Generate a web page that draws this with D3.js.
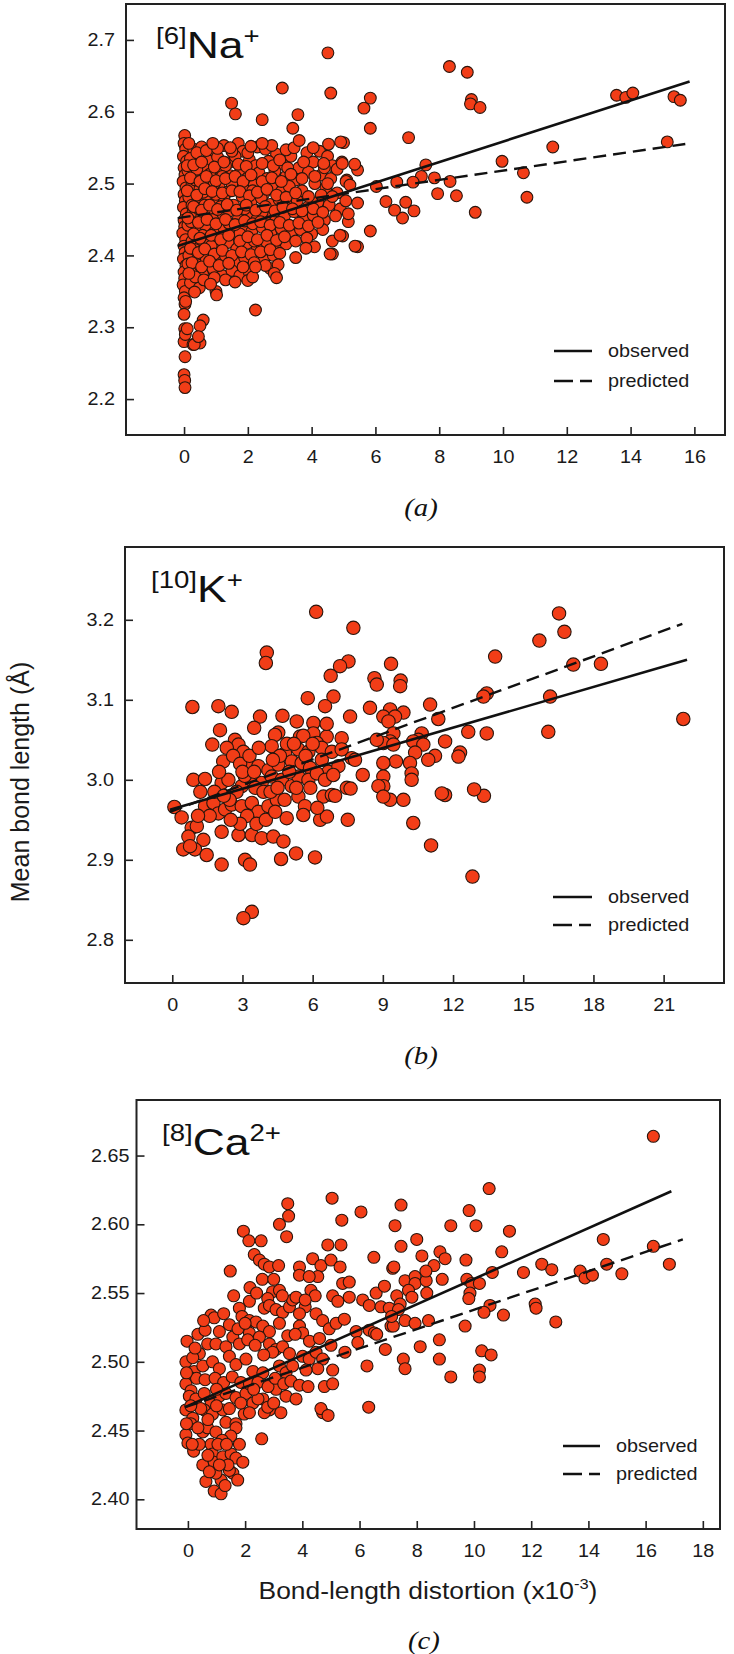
<!DOCTYPE html>
<html><head><meta charset="utf-8">
<script src="https://cdn.jsdelivr.net/npm/d3@7"></script>
<style>body{margin:0;background:#fff}svg{display:block}</style>
</head><body>
<svg id="chart" width="734" height="1654"></svg>
<script>
// ---------- DATA ----------
// (a) [6]Na+ : [bond-length distortion x1e-3, mean bond length Å]
const naPoints = [
 [0.02,2.567],[0.0,2.556],[0.05,2.548],[-0.02,2.538],[0.08,2.531],[0.0,2.522],[0.03,2.512],[-0.03,2.503],[0.06,2.494],[0.0,2.485],
 [0.04,2.476],[-0.02,2.467],[0.07,2.458],[0.0,2.449],[0.02,2.44],[-0.04,2.431],[0.05,2.422],[0.0,2.413],[0.03,2.404],[-0.02,2.395],
 [0.06,2.386],[0.0,2.377],[0.02,2.368],[-0.03,2.359],[0.04,2.35],[0.0,2.341],[0.03,2.332],[0.0,2.318],[0.05,2.336],[0.02,2.298],
 [0.0,2.28],[0.04,2.29],[0.03,2.259],[0.0,2.234],[0.02,2.226],[0.03,2.216],
 [0.3,2.548],[0.55,2.551],[0.85,2.54],[1.25,2.553],[1.7,2.556],[1.85,2.545],[2.3,2.551],[2.55,2.548],[2.9,2.541],[3.85,2.543],[4.25,2.545],[4.5,2.538],[0.15,2.556],
 [0.2,2.535],[0.45,2.528],[0.75,2.532],[1.05,2.537],[1.4,2.529],[1.6,2.538],[2.05,2.533],[2.25,2.525],[2.65,2.531],[3.1,2.527],[3.35,2.538],[3.6,2.522],[4.05,2.53],[4.65,2.525],[4.95,2.53],
 [0.12,2.518],[0.38,2.512],[0.62,2.521],[0.9,2.509],[1.18,2.516],[1.45,2.511],[1.78,2.52],[2.0,2.508],[2.35,2.515],[2.6,2.507],[2.85,2.517],[3.2,2.51],[3.5,2.505],[3.9,2.516],[4.3,2.512],[4.6,2.507],[5.1,2.505],
 [0.25,2.499],[0.5,2.493],[0.78,2.502],[1.1,2.496],[1.35,2.488],[1.62,2.5],[1.95,2.49],[2.2,2.498],[2.5,2.486],[2.75,2.495],[3.05,2.489],[3.3,2.496],[3.7,2.49],[4.1,2.5],[4.45,2.494],[4.8,2.487],
 [0.15,2.481],[0.42,2.475],[0.7,2.484],[0.98,2.472],[1.25,2.479],[1.55,2.47],[1.82,2.482],[2.1,2.474],[2.42,2.48],[2.7,2.471],[2.98,2.478],[3.25,2.47],[3.55,2.476],[3.9,2.468],[4.2,2.474],[4.55,2.47],[4.9,2.465],
 [0.28,2.46],[0.55,2.453],[0.85,2.462],[1.12,2.455],[1.42,2.462],[1.7,2.451],[2.0,2.458],[2.28,2.45],[2.58,2.457],[2.88,2.449],[3.15,2.455],[3.45,2.461],[3.75,2.45],[4.05,2.456],[4.4,2.449],[4.75,2.455],
 [0.12,2.442],[0.4,2.435],[0.68,2.441],[0.95,2.432],[1.25,2.438],[1.52,2.43],[1.85,2.44],[2.12,2.433],[2.45,2.439],[2.72,2.43],[3.05,2.437],[3.35,2.429],[3.65,2.436],[4.0,2.43],[4.35,2.436],
 [0.25,2.42],[0.52,2.413],[0.8,2.422],[1.08,2.41],[1.38,2.418],[1.65,2.409],[1.98,2.417],[2.3,2.41],[2.6,2.418],[2.9,2.411],[3.2,2.416],
 [0.15,2.4],[0.42,2.394],[0.7,2.401],[1.0,2.392],[1.3,2.399],[1.6,2.39],[1.9,2.397],[2.5,2.394],[2.8,2.4],
 [0.3,2.38],[0.58,2.375],[0.9,2.382],[1.2,2.372],[1.5,2.379],[1.75,2.372],[2.05,2.376],[2.7,2.382],
 [0.2,2.362],[0.48,2.355],[0.75,2.364],[1.0,2.35],[0.33,2.349],
 [0.1,2.525],[0.35,2.505],[0.6,2.488],[0.45,2.465],[0.22,2.447],[0.58,2.428],[0.35,2.408],[0.12,2.388],[0.5,2.386],[0.85,2.413],
 [0.9,2.45],[1.15,2.468],[1.0,2.485],[0.8,2.513],[1.3,2.525],[1.5,2.5],[1.4,2.445],[1.15,2.425],[1.9,2.465],[1.75,2.43],
 [2.15,2.49],[2.45,2.46],[2.2,2.42],[1.5,2.545],[2.0,2.543],[0.25,2.47],[0.65,2.47],[0.95,2.5],[1.2,2.51],[0.7,2.395],[0.4,2.52],
 [0.4,2.543],[0.7,2.546],[1.05,2.549],[1.45,2.55],[2.1,2.552],[2.75,2.553],[3.2,2.547],[3.45,2.55],[4.05,2.55],[0.9,2.556],[2.45,2.556],
 [0.3,2.526],[0.55,2.53],[0.95,2.523],[1.25,2.53],[1.7,2.527],[1.95,2.524],[2.45,2.528],[2.8,2.525],[3.0,2.533],[3.25,2.522],[3.75,2.53],[4.4,2.522],[4.8,2.52],
 [0.2,2.508],[0.5,2.503],[0.7,2.51],[1.0,2.504],[1.3,2.507],[1.6,2.51],[1.85,2.503],[2.1,2.512],[2.45,2.503],[2.75,2.508],[3.05,2.503],[3.35,2.513],[3.7,2.507],[4.1,2.51],[4.5,2.5],
 [0.1,2.49],[0.4,2.484],[0.65,2.493],[0.88,2.489],[1.2,2.487],[1.5,2.49],[1.75,2.489],[2.05,2.483],[2.3,2.488],[2.6,2.492],[2.9,2.484],[3.2,2.481],[3.5,2.487],[3.9,2.482],[4.3,2.484],[4.65,2.482],
 [0.3,2.468],[0.55,2.463],[0.8,2.47],[1.05,2.464],[1.35,2.471],[1.65,2.463],[1.95,2.47],[2.25,2.463],[2.55,2.468],[2.85,2.462],[3.1,2.467],[3.4,2.465],[3.7,2.462],[4.05,2.465],[4.35,2.46],
 [0.12,2.452],[0.45,2.446],[0.72,2.45],[1.0,2.444],[1.3,2.45],[1.6,2.443],[1.9,2.448],[2.15,2.444],[2.4,2.447],[2.7,2.442],[3.0,2.446],[3.3,2.442],[3.6,2.445],[3.9,2.441],[4.2,2.446],
 [0.3,2.43],[0.5,2.424],[0.85,2.428],[1.15,2.422],[1.4,2.428],[1.75,2.42],[2.0,2.426],[2.3,2.422],[2.6,2.428],[2.9,2.421],[3.15,2.426],[3.5,2.42],[3.85,2.424],
 [0.2,2.41],[0.45,2.404],[0.65,2.409],[0.95,2.402],[1.2,2.407],[1.5,2.4],[1.8,2.405],[2.1,2.401],[2.4,2.405],[2.7,2.408],[3.0,2.403],
 [0.25,2.39],[0.55,2.384],[0.8,2.392],[1.1,2.386],[1.4,2.389],[1.85,2.384],[2.2,2.39],[2.55,2.386],
 [0.35,2.37],[0.62,2.366],[0.95,2.369],[1.3,2.366],[1.6,2.363],[2.0,2.365],[0.15,2.375],
 [4.51,2.682],[3.08,2.633],[4.6,2.626],[8.32,2.663],[8.88,2.655],[9.01,2.617],[8.98,2.611],[9.28,2.606],[5.84,2.619],[5.64,2.605],
 [5.84,2.577],[1.49,2.612],[1.61,2.597],[2.45,2.589],[3.57,2.596],[3.41,2.577],[3.61,2.56],[7.04,2.564],[13.56,2.623],[13.85,2.62],
 [14.07,2.626],[15.36,2.621],[15.56,2.616],[15.15,2.558],[11.56,2.551],[9.97,2.531],[10.64,2.515],[10.75,2.481],[9.13,2.46],[8.54,2.483],
 [7.95,2.486],[8.34,2.503],[7.85,2.508],[7.58,2.526],[7.44,2.51],[7.18,2.502],[6.67,2.502],[6.95,2.474],[7.21,2.462],[6.85,2.452],
 [6.6,2.463],[6.33,2.475],[6.03,2.496],[5.84,2.434],[5.44,2.473],[5.44,2.412],[5.44,2.519],[5.35,2.527],[5.0,2.557],[4.53,2.555],
 [4.65,2.402],[4.65,2.42],[4.97,2.427],[5.15,2.447],[5.15,2.458],[5.07,2.476],[4.96,2.528],[4.38,2.528],[4.09,2.412],[3.82,2.41],
 [3.5,2.397],[2.95,2.387],[2.83,2.375],[2.9,2.369],[2.15,2.37],[2.24,2.384],[2.24,2.324],[1.02,2.345],[0.83,2.36],[0.6,2.31],
 [0.5,2.302],[0.5,2.278],[0.28,2.276],[0.1,2.298],[0.32,2.276],[0.45,2.287],
 [4.91,2.558],[5.08,2.503],[5.2,2.498],[4.89,2.428],[5.36,2.413],[4.58,2.402]
];
const naObserved = [[-0.2,2.413],[15.85,2.642]];
const naPredicted = [[-0.2,2.452],[15.85,2.556]];
const naXTicks = [0,2,4,6,8,10,12,14,16];
const naYTicks = [2.2,2.3,2.4,2.5,2.6,2.7];

// (b) [10]K+
const kPoints = [
 [16.53,3.208],[16.76,3.185],[15.69,3.174],[13.8,3.154],[17.14,3.144],[18.32,3.145],[9.35,3.145],[9.76,3.124],[9.74,3.117],[13.44,3.108],
 [13.3,3.104],[16.15,3.104],[11.02,3.094],[9.88,3.084],[9.31,3.088],[9.02,3.079],[9.52,3.079],[9.24,3.073],[11.37,3.076],[9.45,3.058],
 [9.31,3.048],[9.02,3.046],[9.45,3.044],[12.65,3.06],[13.44,3.058],[16.07,3.06],[21.84,3.076],[10.66,3.058],[10.52,3.05],[10.3,3.048],
 [10.73,3.044],[11.66,3.048],[12.3,3.034],[12.23,3.029],[11.23,3.03],[10.94,3.025],[10.38,3.034],[10.16,3.021],[9.56,3.023],[9.02,3.021],
 [9.02,3.004],[9.02,2.992],[9.31,2.975],[9.88,2.975],[10.23,3.008],[10.23,3.0],[13.32,2.98],[12.9,2.988],[11.66,2.981],[11.52,2.983],
 [10.3,2.946],[11.06,2.918],[12.83,2.879],
 [6.15,3.21],[7.74,3.19],[4.04,3.159],[4.0,3.146],[7.53,3.148],[7.17,3.142],[6.77,3.13],[8.64,3.127],[8.74,3.119],[5.79,3.102],
 [6.89,3.104],[6.53,3.092],[0.86,3.091],[1.97,3.092],[2.54,3.085],[8.45,3.09],[3.75,3.079],[3.5,3.065],[4.71,3.08],[5.32,3.073],
 [6.03,3.071],[6.03,3.058],[7.6,3.079],[2.04,3.062],[4.53,3.059],[4.39,3.056],[5.46,3.054],[6.6,3.054],[7.24,3.052],[8.74,3.05],
 [2.68,3.05],[2.83,3.044],[2.33,3.04],[3.04,3.035],[1.71,3.044],[4.25,3.042],[4.82,3.033],[5.39,3.038],[5.82,3.035],[6.18,3.046],
 [6.39,3.04],[6.82,3.035],[7.24,3.038],[7.67,3.027],[2.18,3.023],[3.25,3.017],[3.68,3.017],[4.11,3.012],[4.53,3.019],[5.11,3.023],
 [5.53,3.021],[5.89,3.015],[6.39,3.025],[6.67,3.01],[7.1,3.017],[7.81,3.025],[8.14,3.006],[0.9,3.0],[1.4,3.001],[2.11,2.996],
 [2.4,3.0],[2.97,2.992],[3.4,3.0],[3.82,2.996],[4.25,3.004],[4.68,3.0],[5.11,2.992],[5.39,3.004],[5.82,3.0],[6.18,3.008],
 [6.53,3.0],[6.88,3.006],[7.46,2.99],[8.81,2.992],[9.02,2.979],[0.09,2.966],[0.4,2.953],[1.4,2.967],[1.76,2.971],[1.97,2.958],
 [2.26,2.963],[2.54,2.969],[2.97,2.967],[3.4,2.971],[3.68,2.96],[4.11,2.967],[4.47,2.975],[5.39,2.979],[5.67,2.967],[6.46,2.979],
 [6.82,2.981],[4.89,2.952],[5.6,2.956],[6.32,2.95],[6.61,2.954],[7.5,2.95],[0.83,2.94],[1.05,2.942],[0.69,2.929],[1.33,2.925],
 [0.97,2.913],[0.47,2.913],[1.47,2.906],[0.76,2.917],[2.11,2.935],[2.83,2.931],[3.4,2.931],[3.82,2.927],[4.32,2.929],[4.75,2.923],
 [2.11,2.894],[3.11,2.9],[3.32,2.894],[4.65,2.901],[5.29,2.908],[6.1,2.903],[3.4,2.835],[3.04,2.827],
 [2.6,3.03],[2.9,3.02],[3.1,3.005],[3.55,2.99],[3.9,2.985],[2.75,2.985],[2.45,2.975],[3.2,2.955],[3.6,2.945],[4.0,2.95],
 [4.4,2.96],[2.9,2.945],[2.5,2.95],[1.8,2.985],[2.0,3.01],[3.3,3.03],[4.6,3.03],[5.0,3.01],[5.3,2.99],[4.8,2.975],
 [5.9,2.99],[6.2,2.965],[3.7,3.04],[4.9,3.045],[5.6,3.055],[6.6,3.07],[6.96,2.98],[7.62,2.989],
 [1.2,2.985],[1.6,2.955],[2.2,2.98],[3.0,3.01],[3.5,3.01],[4.2,2.985],[4.5,2.99],[4.3,3.025],[5.2,3.045],[5.7,3.03],[6.0,3.045],[1.1,2.955]
];
const kObserved = [[-0.1,2.9625],[22.0,3.15]];
const kPredicted = [[-0.1,2.96],[21.8,3.195]];
const kXTicks = [0,3,6,9,12,15,18,21];
const kYTicks = [2.8,2.9,3.0,3.1,3.2];

// (c) [8]Ca2+
const caPoints = [
 [5.04,2.619],[3.49,2.615],[3.52,2.606],[3.2,2.6],[1.94,2.595],[2.13,2.588],[2.56,2.588],[3.45,2.591],[5.38,2.603],[6.05,2.609],
 [2.32,2.578],[2.5,2.574],[2.67,2.571],[2.85,2.569],[3.17,2.57],[1.48,2.566],[3.9,2.569],[3.9,2.563],[4.36,2.575],[4.65,2.57],
 [4.54,2.562],[4.24,2.562],[4.89,2.585],[5.0,2.574],[5.35,2.585],[5.32,2.569],[6.5,2.576],[7.16,2.568],[2.17,2.554],[2.15,2.544],
 [2.96,2.551],[3.2,2.552],[2.79,2.546],[5.41,2.557],[5.64,2.558],[5.06,2.548],[5.24,2.544],[5.64,2.547],[6.11,2.545],[6.58,2.55],
 [6.87,2.555],[6.34,2.541],[6.75,2.54],[7.04,2.539],[4.3,2.552],[0.81,2.534],[0.92,2.532],[1.8,2.539],[1.89,2.533],[2.15,2.53],
 [2.67,2.539],[2.85,2.541],[3.08,2.538],[3.31,2.536],[3.55,2.54],[3.66,2.545],[3.78,2.547],[2.38,2.529],[2.62,2.526],[2.85,2.522],
 [3.2,2.528],[3.49,2.519],[3.9,2.526],[4.01,2.521],[4.48,2.535],[4.71,2.53],[4.94,2.524],[5.18,2.528],[5.47,2.531],[5.88,2.522],
 [6.34,2.523],[6.52,2.521],[7.1,2.526],[-0.03,2.515],[0.4,2.506],[0.69,2.513],[0.98,2.513],[1.33,2.511],[1.57,2.518],[1.8,2.513],
 [2.15,2.521],[2.09,2.516],[2.5,2.518],[2.85,2.513],[3.08,2.509],[3.31,2.511],[-0.07,2.5],[0.17,2.503],[0.22,2.493],[0.05,2.489],
 [-0.07,2.484],[0.11,2.479],[0.52,2.497],[0.86,2.5],[1.1,2.495],[1.45,2.504],[1.68,2.498],[2.03,2.502],[2.27,2.493],[2.62,2.492],
 [2.96,2.507],[3.2,2.497],[3.43,2.492],[3.66,2.497],[4.01,2.504],[4.24,2.502],[4.48,2.507],[4.71,2.502],[4.54,2.495],[4.13,2.494],
 [5.06,2.494],[4.77,2.482],[5.06,2.484],[5.49,2.507],[5.94,2.514],[6.26,2.497],[6.9,2.509],[0.05,2.475],[0.28,2.473],[0.57,2.477],
 [0.81,2.471],[1.1,2.475],[1.33,2.477],[1.68,2.474],[2.03,2.477],[2.27,2.47],[2.62,2.473],[2.85,2.465],[3.08,2.48],[3.43,2.475],
 [3.78,2.473],[-0.07,2.465],[0.17,2.459],[0.57,2.465],[0.86,2.462],[1.22,2.465],[1.33,2.456],[1.68,2.455],[1.97,2.462],[2.67,2.463],
 [2.79,2.467],[6.32,2.467],[4.71,2.463],[4.65,2.466],[4.9,2.461],[-0.07,2.447],[0.0,2.441],[0.52,2.449],[0.69,2.452],[0.98,2.449],
 [1.68,2.452],[2.58,2.444],[0.81,2.44],[0.86,2.433],[0.52,2.425],[0.92,2.427],[1.22,2.431],[1.51,2.433],[1.68,2.43],[1.92,2.427],
 [1.57,2.419],[1.74,2.414],[1.16,2.414],[0.98,2.419],[0.63,2.413],[0.92,2.406],[1.16,2.404],[1.45,2.421],
 [0.3,2.488],[0.6,2.487],[0.95,2.488],[1.25,2.485],[1.55,2.489],[1.85,2.485],[2.15,2.484],[2.45,2.485],[2.8,2.482],[3.05,2.488],[3.35,2.484],[3.6,2.486],[3.9,2.483],[4.2,2.482],
 [0.35,2.52],[0.6,2.523],[1.1,2.522],[1.45,2.527],[1.75,2.524],[2.0,2.528],[2.35,2.512],[2.65,2.505],[3.55,2.506],[3.75,2.52],[4.25,2.515],[4.6,2.517],[5.0,2.512],
 [0.1,2.455],[0.35,2.452],[0.45,2.466],[0.7,2.458],[1.0,2.468],[1.45,2.466],[1.5,2.446],[1.85,2.47],[2.15,2.463],[2.45,2.473],[3.0,2.47],[3.25,2.463],[2.3,2.48],[1.0,2.48],
 [0.2,2.435],[0.4,2.44],[1.2,2.443],[1.05,2.44],[1.35,2.44],[0.7,2.432],[1.8,2.44],[1.4,2.425],[1.3,2.41],[0.75,2.42],[1.1,2.425],
 [-0.05,2.492],[0.1,2.468],[-0.05,2.455],[0.15,2.44],[0.25,2.51],[0.55,2.53],[1.25,2.535],[1.6,2.548],[2.4,2.55],[2.6,2.56],[3.0,2.56],[3.3,2.548],[4.1,2.54],[4.45,2.548],[3.9,2.535],[4.1,2.545],
 [16.27,2.664],[10.53,2.626],[7.45,2.614],[9.83,2.61],[7.24,2.599],[9.19,2.599],[10.07,2.599],[11.24,2.595],[8.0,2.589],[7.45,2.584],
 [14.52,2.589],[16.27,2.584],[16.83,2.571],[8.81,2.58],[8.99,2.575],[8.18,2.577],[10.97,2.58],[7.2,2.569],[8.6,2.57],[9.72,2.574],
 [14.64,2.571],[15.17,2.564],[12.37,2.571],[12.72,2.567],[13.71,2.566],[13.88,2.561],[14.14,2.563],[11.73,2.565],[10.64,2.565],[8.89,2.56],
 [7.59,2.559],[7.94,2.562],[7.94,2.557],[8.33,2.559],[9.75,2.56],[9.92,2.557],[10.19,2.557],[9.86,2.55],[9.82,2.546],[10.56,2.541],
 [10.35,2.536],[11.03,2.534],[12.14,2.542],[12.17,2.539],[12.86,2.529],[8.35,2.55],[7.71,2.552],[7.3,2.548],[7.42,2.542],[7.83,2.547],
 [7.36,2.538],[7.59,2.53],[7.94,2.528],[8.41,2.53],[7.18,2.526],[7.12,2.533],[9.69,2.526],[8.79,2.516],[8.12,2.511],[8.79,2.502],
 [7.53,2.502],[7.59,2.495],[9.19,2.489],[10.27,2.508],[10.6,2.505],[10.19,2.494],[10.19,2.489],[6.6,2.52],[8.32,2.566]
];
const caObserved = [[-0.1,2.467],[16.9,2.624]];
const caPredicted = [[-0.1,2.467],[17.3,2.589]];
const caXTicks = [0,2,4,6,8,10,12,14,16,18];
const caYTicks = [2.40,2.45,2.50,2.55,2.60,2.65];

const legendLabels = ["observed","predicted"];
const panelTags = ["(a)","(b)","(c)"];
const yAxisTitle = "Mean bond length (Å)";
const xAxisTitle = "Bond-length distortion (x10";
const xAxisTitleSup = "-3";

// ---------- DRAWING ----------
const svg = d3.select("#chart");
const FONT = "'Liberation Sans', Arial, Helvetica, sans-serif";
const SX = 1.13;
function stretch(sel, s){
  sel.each(function(){
    const t = d3.select(this); const x = +t.attr("x") || 0;
    t.attr("transform", `translate(${x},0) scale(${s},1) translate(${-x},0)`);
  });
}

const panels = [
 {pts:naPoints, obs:naObserved, pred:naPredicted, xt:naXTicks, yt:naYTicks, fmt:d3.format(".1f"),
  box:{l:126,r:725,t:4,b:435}, xd:[-1.82,16.96], yd:[2.15,2.75], rad:5.9, yPad:11,
  title:{x:156,y:58,pre:"[6]",main:"Na",post:"+"}, leg:{x1:554,x2:592,y:351,dy:30,tx:608}, tag:{x:421,y:516}},
 {pts:kPoints, obs:kObserved, pred:kPredicted, xt:kXTicks, yt:kYTicks, fmt:d3.format(".1f"),
  box:{l:125,r:724,t:547,b:983}, xd:[-2.02,23.58], yd:[2.746,3.291], rad:6.7, yPad:11,
  title:{x:151,y:602,pre:"[10]",main:"K",post:"+"}, leg:{x1:553,x2:592,y:897,dy:28,tx:608}, tag:{x:421,y:1064}},
 {pts:caPoints, obs:caObserved, pred:caPredicted, xt:caXTicks, yt:caYTicks, fmt:d3.format(".2f"),
  box:{l:136.5,r:720,t:1100,b:1529}, xd:[-1.797,18.6], yd:[2.3784,2.6904], rad:6.0, yPad:7,
  title:{x:162,y:1155,pre:"[8]",main:"Ca",post:"2+"}, leg:{x1:563,x2:600,y:1446,dy:28,tx:616}, tag:{x:424,y:1649}}
];

panels.forEach((p,i)=>{
  const x = d3.scaleLinear().domain(p.xd).range([p.box.l,p.box.r]);
  const y = d3.scaleLinear().domain(p.yd).range([p.box.b,p.box.t]);
  const g = svg.append("g");

  g.append("g").selectAll("circle").data(p.pts).join("circle")
    .attr("cx",d=>x(d[0])).attr("cy",d=>y(d[1])).attr("r",p.rad)
    .attr("fill","#F23D17").attr("stroke","#2a150c").attr("stroke-width",1.1);

  const line = d3.line().x(d=>x(d[0])).y(d=>y(d[1]));
  g.append("path").datum(p.obs).attr("d",line).attr("fill","none").attr("stroke","#111").attr("stroke-width",2.6);
  g.append("path").datum(p.pred).attr("d",line).attr("fill","none").attr("stroke","#111").attr("stroke-width",2.4).attr("stroke-dasharray","13,7");

  const xa = g.append("g").attr("transform",`translate(0,${p.box.b})`)
    .call(d3.axisBottom(x).tickValues(p.xt).tickSizeInner(-8).tickSizeOuter(0).tickPadding(16).tickFormat(d3.format("d")));
  const ya = g.append("g").attr("transform",`translate(${p.box.l},0)`)
    .call(d3.axisLeft(y).tickValues(p.yt).tickSizeInner(-8).tickSizeOuter(0).tickPadding(p.yPad).tickFormat(p.fmt));
  [xa,ya].forEach(a=>{
    a.select(".domain").remove();
    a.selectAll("line").attr("stroke","#222").attr("stroke-width",1.6);
    a.selectAll("text").attr("font-family",FONT).attr("font-size",17.5).attr("fill","#1a1a1a");
    stretch(a.selectAll("text"), SX);
  });

  g.append("rect").attr("x",p.box.l).attr("y",p.box.t).attr("width",p.box.r-p.box.l).attr("height",p.box.b-p.box.t)
    .attr("fill","none").attr("stroke","#222").attr("stroke-width",2);

  const t = g.append("text").attr("x",p.title.x).attr("y",p.title.y).attr("font-family",FONT).attr("fill","#111");
  t.append("tspan").attr("font-size",23).attr("dy",-14).text(p.title.pre);
  t.append("tspan").attr("font-size",37).attr("dy",14).text(p.title.main);
  t.append("tspan").attr("font-size",23).attr("dy",-14).text(p.title.post);
  stretch(t, 1.2);

  legendLabels.forEach((lab,j)=>{
    const ly = p.leg.y + j*p.leg.dy;
    g.append("line").attr("x1",p.leg.x1).attr("x2",p.leg.x2).attr("y1",ly).attr("y2",ly)
      .attr("stroke","#111").attr("stroke-width",2.4).attr("stroke-dasharray", j? "19,7,12":null);
    const lt = g.append("text").attr("x",p.leg.tx).attr("y",ly+6.5).attr("font-family",FONT).attr("font-size",18)
      .attr("fill","#1a1a1a").text(lab);
    stretch(lt, 1.1);
  });

  const tg = g.append("text").attr("x",p.tag.x).attr("y",p.tag.y).attr("text-anchor","middle")
    .attr("font-family","'Liberation Serif','Times New Roman',serif").attr("font-style","italic").attr("font-size",25)
    .attr("fill","#111").text(panelTags[i]);
  stretch(tg, 1.15);
});

svg.append("text").attr("transform","translate(29,782) rotate(-90)").attr("text-anchor","middle")
  .attr("font-family",FONT).attr("font-size",25).attr("fill","#1a1a1a").text(yAxisTitle);

const xt = svg.append("text").attr("x",428).attr("y",1599).attr("text-anchor","middle")
  .attr("font-family",FONT).attr("font-size",24).attr("fill","#1a1a1a");
xt.append("tspan").text(xAxisTitle);
xt.append("tspan").attr("font-size",15).attr("dy",-10).text(xAxisTitleSup);
xt.append("tspan").attr("dy",10).text(")");
stretch(xt, 1.1);
</script>
</body></html>
